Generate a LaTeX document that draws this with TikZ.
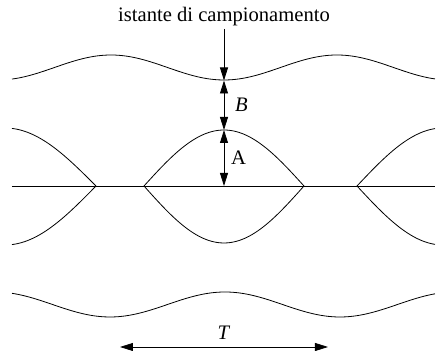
\documentclass[tikz,border=0pt]{standalone}
\usepackage{fontspec}
\setmainfont{Liberation Serif}
\usetikzlibrary{arrows.meta}

\begin{document}
\begin{tikzpicture}[x=0.5pt, y=-0.5pt, line width=0.4pt,
    font=\fontsize{10.3}{12.4}\selectfont,
    tip/.style={-{Triangle[length=6.5pt,width=4pt]}},
    dimarrow/.style={{Triangle[length=6.5pt,width=4pt]}-{Triangle[length=6.5pt,width=4pt]}}]
    \useasboundingbox (0,0) rectangle (436,351);

    % Define the points of the eye
    \coordinate (L) at (12,186);
    \coordinate (R) at (435,186);
    \coordinate (trough) at (224,80.5);
    \coordinate (peak) at (224,130);
    \coordinate (mid) at (224,186);
    \coordinate (T1) at (120,347);
    \coordinate (T2) at (328,347);

    % Draw the axis
    \draw (L) -- (R);

    % Draw the outer curves
    \draw plot[domain=12:435, samples=120] (\x, {67.5+12.5*cos((\x-224)/226*360)});
    \draw plot[domain=12:435, samples=120] (\x, {304.5-12.5*cos((\x-225)/230*360)});

    % Draw the eye openings
    \draw plot[domain=144:304, samples=60] (\x, {186-56*cos((\x-224)/80*90)});
    \draw plot[domain=144:304, samples=60] (\x, {186+57*cos((\x-224)/80*90)});
    \draw plot[domain=12:96, samples=40] (\x, {186-58*cos((\x-5)/91*90)});
    \draw plot[domain=12:96, samples=40] (\x, {186+59*cos((\x-5)/91*90)});
    \draw plot[domain=357:435, samples=40] (\x, {186-58*cos((\x-443)/86*90)});
    \draw plot[domain=357:435, samples=40] (\x, {186+59*cos((\x-443)/86*90)});

    % Place the labels and the arrows
    \node[anchor=base, inner sep=1pt] (istante) at (224,22) {istante di campionamento};
    \draw[tip] (istante.south) -- (trough);
    \draw[dimarrow] (trough) -- (peak) node[midway, right, xshift=2pt] (labB) {\textit{B}};
    \draw[dimarrow] (peak) -- (mid) node[midway, right] (labA) {A};
    \draw[dimarrow] (T1) -- (T2) node[midway, above] (labT) {\textit{T}};

\end{tikzpicture}
\end{document}
